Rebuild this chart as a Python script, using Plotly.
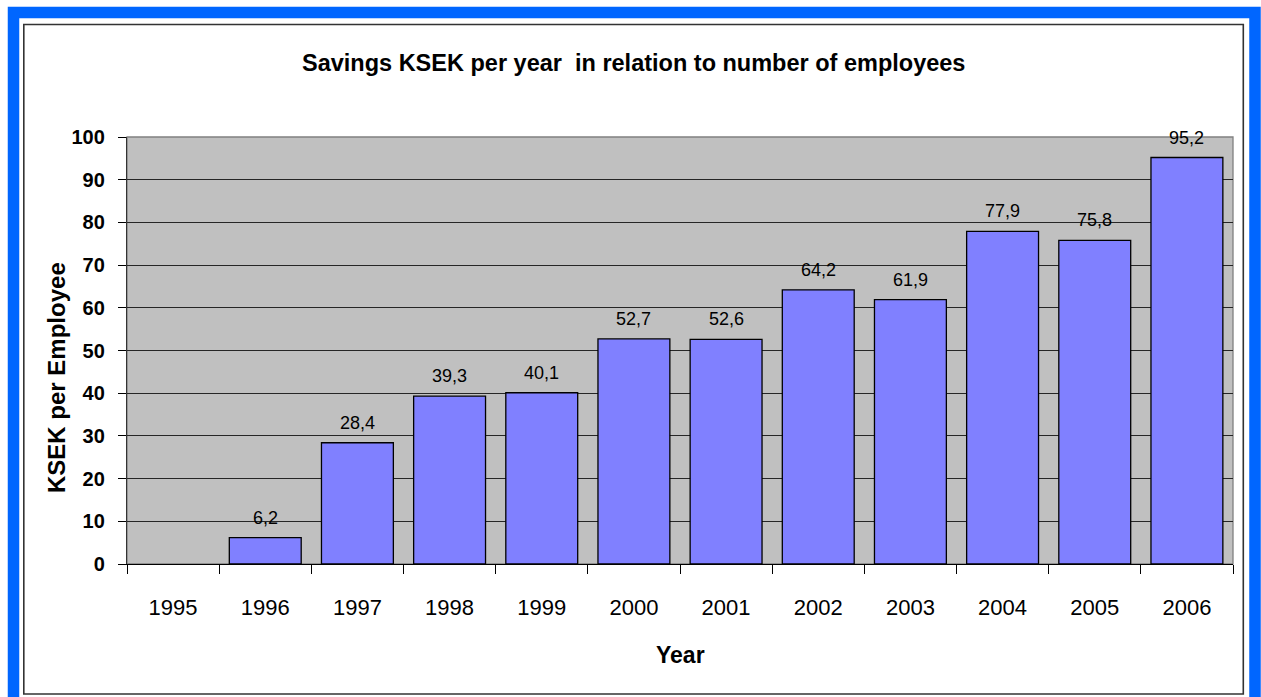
import plotly.graph_objects as go

years = ["1995", "1996", "1997", "1998", "1999", "2000", "2001", "2002", "2003", "2004", "2005", "2006"]
values = [None, 6.2, 28.4, 39.3, 40.1, 52.7, 52.6, 64.2, 61.9, 77.9, 75.8, 95.2]
y_ticks = [0, 10, 20, 30, 40, 50, 60, 70, 80, 90, 100]

FONT = "Liberation Sans, Arial, sans-serif"
W, H = 1261, 697
L, R, T, B = 127, 1233, 137, 564


def px(x):
    return (x - L) / (R - L)


def py(y):
    return (B - y) / (B - T)


fig = go.Figure()
fig.add_trace(go.Bar(
    x=years, y=values,
    marker=dict(color="#8080FF", line=dict(color="#000000", width=1.3)),
    showlegend=False,
))

annotations = []
for i, v in enumerate(values):
    if v is None:
        continue
    annotations.append(dict(
        x=i, y=v, xref="x", yref="y",
        text=f"{v:.1f}".replace(".", ","),
        showarrow=False, yanchor="bottom", yshift=8,
        font=dict(family=FONT, size=18, color="#000000"),
    ))

annotations.append(dict(
    x=px(56), y=py(378), xref="paper", yref="paper",
    text="<b>KSEK per Employee</b>", textangle=-90, showarrow=False,
    xanchor="center", yanchor="middle",
    font=dict(family=FONT, size=24, color="#000000"),
))
annotations.append(dict(
    x=px(680), y=py(655), xref="paper", yref="paper",
    text="<b>Year</b>", showarrow=False,
    xanchor="center", yanchor="middle",
    font=dict(family=FONT, size=23, color="#000000"),
))
annotations.append(dict(
    x=px(633), y=py(63), xref="paper", yref="paper",
    text="<b>Savings KSEK per year  in relation to number of employees</b>",
    showarrow=False, xanchor="center", yanchor="middle",
    font=dict(family=FONT, size=23.5, color="#000000"),
))

shapes = [
    dict(type="rect", xref="paper", yref="paper",
         x0=px(13.5), x1=px(1255), y0=py(704), y1=py(12.5),
         line=dict(color="#0066FF", width=11.5), fillcolor="rgba(0,0,0,0)", layer="above"),
    dict(type="rect", xref="paper", yref="paper",
         x0=px(23.8), x1=px(1243.3), y0=py(694), y1=py(24.5),
         line=dict(color="#333333", width=1.6), fillcolor="rgba(0,0,0,0)", layer="above"),
    dict(type="rect", xref="paper", yref="paper",
         x0=0, x1=1, y0=0, y1=1,
         line=dict(color="#808080", width=1.3), fillcolor="rgba(0,0,0,0)", layer="below"),
]

fig.update_layout(
    width=W, height=H,
    margin=dict(l=L, r=W - R, t=T, b=H - B),
    paper_bgcolor="#FFFFFF",
    plot_bgcolor="#C0C0C0",
    bargap=0.22,
    annotations=annotations,
    shapes=shapes,
    font=dict(family=FONT, color="#000000"),
)

fig.update_xaxes(
    type="category",
    range=[-0.5, len(years) - 0.5],
    showgrid=False,
    showline=True, linecolor="#000000", linewidth=1.3,
    ticks="outside", tickson="boundaries", ticklen=9, tickcolor="#000000", tickwidth=1.2,
    tickfont=dict(family=FONT, size=22, color="#000000"),
    ticklabelstandoff=23,
    tickangle=0,
)

fig.update_yaxes(
    range=[0, 100],
    tickvals=y_ticks,
    ticktext=[f"<b>{t}</b>" for t in y_ticks],
    showgrid=True, gridcolor="#262626", gridwidth=1.1,
    showline=True, linecolor="#333333", linewidth=1.3,
    ticks="outside", ticklen=8, tickcolor="#000000", tickwidth=1.2,
    tickfont=dict(family=FONT, size=20, color="#000000"),
    ticklabelstandoff=9,
    zeroline=False,
)

fig.write_html("out.html")
